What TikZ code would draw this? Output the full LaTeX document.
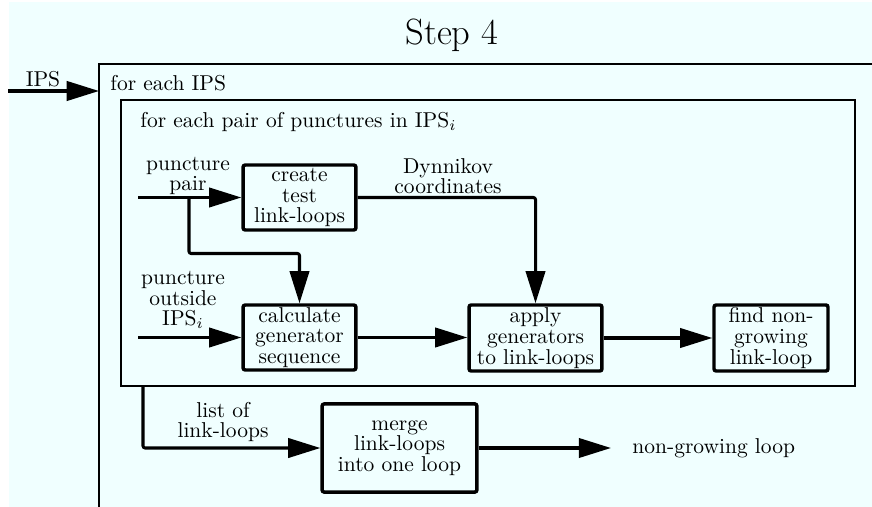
\documentclass[tikz,border=0pt]{standalone}
\usetikzlibrary{arrows.meta}
\definecolor{bgcyan}{RGB}{240,255,255}
\begin{document}
\begin{tikzpicture}[x=0.465pt,y=-0.465pt,
  font=\fontsize{10}{9.6}\selectfont,
  proc/.style={draw, line width=1.6pt, rounded corners=1pt, fill=bgcyan, align=center, inner sep=0pt},
  conn/.style={line width=1.4pt, -{Triangle[length=15pt,width=9pt]}},
  lbl/.style={align=center, inner sep=0pt},
  frame/.style={draw, line width=0.9pt}]
\useasboundingbox (0,0) rectangle (872,507);
\fill[bgcyan] (9,2) rectangle (872,507);

% title
\node[font=\fontsize{17}{20}\selectfont] (title) at (452,35) {Step 4};

% outer frame
\draw[frame] (99,507) -- (99,64) -- (872,64);
\coordinate (ipsin) at (8,91);
\coordinate (ipsout) at (99,91);
\draw[conn] (ipsin) -- (ipsout);
\node[lbl] (ipslbl) at (43,79) {IPS};
\node[lbl, anchor=west] (outerlbl) at (110,83) {for each IPS};

% inner frame
\node[frame, minimum width=341.3pt, minimum height=133pt, inner sep=0pt] (inner) at (488,243) {};
\node[lbl, anchor=west] (innerlbl) at (140,122) {for each pair of punctures in IPS$_i$};

% process boxes
\node[proc, minimum width=52.5pt, minimum height=30.2pt] (create) at (299.5,197.5) {create\\test\\link-loops};
\node[proc, minimum width=52.5pt, minimum height=30.2pt] (calc) at (299.5,337.5) {calculate\\generator\\sequence};
\node[proc, minimum width=61.8pt, minimum height=30.7pt] (apply) at (535.5,338) {apply\\generators\\to link-loops};
\node[proc, minimum width=53pt, minimum height=30.7pt] (find) at (771,338) {find non-\\growing\\link-loop};
\node[proc, minimum width=72pt, minimum height=41pt] (merge) at (399.5,448) {merge\\link-loops\\into one loop};

% labels
\node[lbl] (pplbl) at (188,176) {puncture\\pair};
\node[lbl] (dynlbl) at (448,176) {Dynnikov\\coordinates};
\node[lbl] (polbl) at (183,300) {puncture\\outside\\IPS$_i$};
\node[lbl] (listlbl) at (223,422) {list of\\link-loops};
\node[lbl, anchor=west] (ngl) at (632,448) {non-growing loop};

% connectors
\coordinate (pp) at (138,197.5);
\coordinate (br) at (189,197.5);
\coordinate (po) at (138,337.5);
\draw[conn] (pp) -- (create.west);
\draw[conn, rounded corners=1pt] (br) -- ++(0,56) -| (calc.north);
\draw[conn] (po) -- (calc.west);
\draw[conn] (calc.east) -- (calc.east -| apply.west);
\draw[conn, rounded corners=1pt] (create.east) -| (apply.north);
\draw[conn] (apply.east) -- (find.west);
\coordinate (lstart) at (143,386);
\draw[conn, rounded corners=1pt] (lstart) |- (merge.west);
\coordinate (out) at (611,448);
\draw[conn] (merge.east) -- (out);
\end{tikzpicture}
\end{document}
